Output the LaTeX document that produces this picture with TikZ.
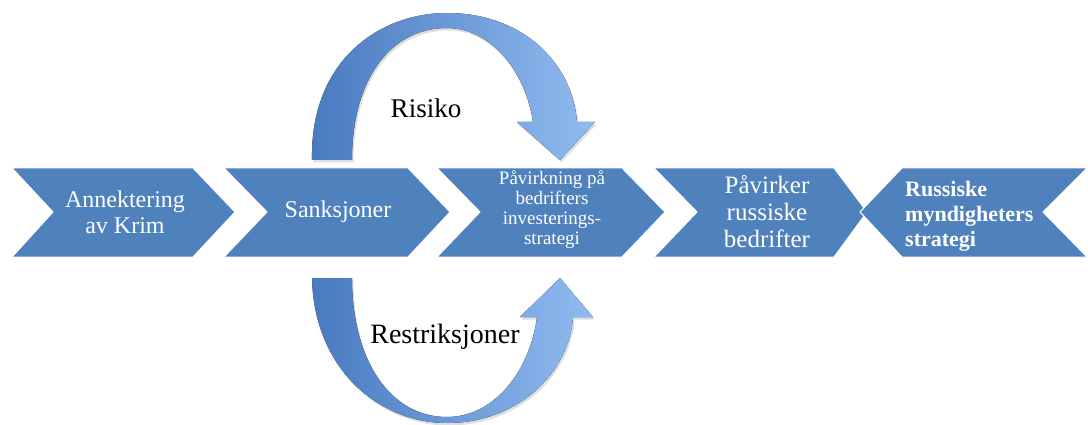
\documentclass[tikz,border=0pt]{standalone}
\usepackage{fontspec}
\setmainfont{Liberation Serif}
\usetikzlibrary{shadows,positioning}
\definecolor{chevblue}{RGB}{79,129,189}
\definecolor{arrdark}{RGB}{72,122,192}
\definecolor{arrlight}{RGB}{145,187,240}
\tikzset{chev/.style={fill=chevblue, draw=white, line width=1pt},
  chevtext/.style={text=white, align=center, inner sep=0pt},
  curvearrow/.style={left color=arrdark, right color=arrlight,
    drop shadow={opacity=0.25, shadow xshift=1.5pt, shadow yshift=-2.5pt}}}

\begin{document}
\begin{tikzpicture}[x=1pt, y=-1pt]
		\useasboundingbox (0,0) rectangle (1088,425);
		% chevrons
		\draw[chev] (12,168) -- (193,168) -- (235,212) -- (193,257) -- (12,257) -- (53,212) -- cycle;
		\draw[chev] (224,168) -- (408,168) -- (450,212) -- (408,257) -- (224,257) -- (267,212) -- cycle;
		\draw[chev] (437,168) -- (622,168) -- (665,212) -- (622,257) -- (437,257) -- (480,212) -- cycle;
		\draw[chev] (654,168) -- (834,168) -- (867,212) -- (834,257) -- (654,257) -- (697,212) -- cycle;
		\draw[chev] (902,168) -- (1087,168) -- (1043,212) -- (1087,257) -- (902,257) -- (860,212) -- cycle;
		\node(krim)[chevtext, font=\fontsize{24}{26}\selectfont] at (125,212){Annektering\\av Krim};
		\node(sanks)[chevtext, font=\fontsize{24}{26}\selectfont] at (338,212){Sanksjoner};
		\node(invest)[chevtext, font=\fontsize{19}{20}\selectfont] at (552,210){Påvirkning på\\bedrifters\\investerings-\\strategi};
		\node(pavirk)[chevtext, font=\fontsize{25}{27}\selectfont] at (767,212){Påvirker\\russiske\\bedrifter};
		\node(myndig)[chevtext, align=left, anchor=west, font=\bfseries\fontsize{22}{25}\selectfont] at (905,216){Russiske\\myndigheters\\strategi};
		% curved arrows
		\fill[curvearrow] (312,160) .. controls (310,60) and (380,13) .. (447,13) .. controls (520,13) and (572,60) .. (577,122)
			-- (595,122) -- (560,160) -- (517,122) -- (533,122)
			.. controls (525,70) and (490,28) .. (447,28) .. controls (390,28) and (352,80) .. (352,160) -- cycle;
		\fill[curvearrow] (312,278) .. controls (314,370) and (380,423) .. (447,423) .. controls (520,423) and (570,370) .. (573,317)
			-- (593,317) -- (560,278) -- (520,317) -- (537,317)
			.. controls (530,370) and (495,417) .. (447,417) .. controls (390,417) and (352,360) .. (352,278) -- cycle;
		\node(risiko)[anchor=base, font=\fontsize{27}{30}\selectfont] at (426,118){Risiko};
		\node(restr)[anchor=base, font=\fontsize{28}{30}\selectfont] at (445,343){Restriksjoner};
	\end{tikzpicture}
\end{document}
